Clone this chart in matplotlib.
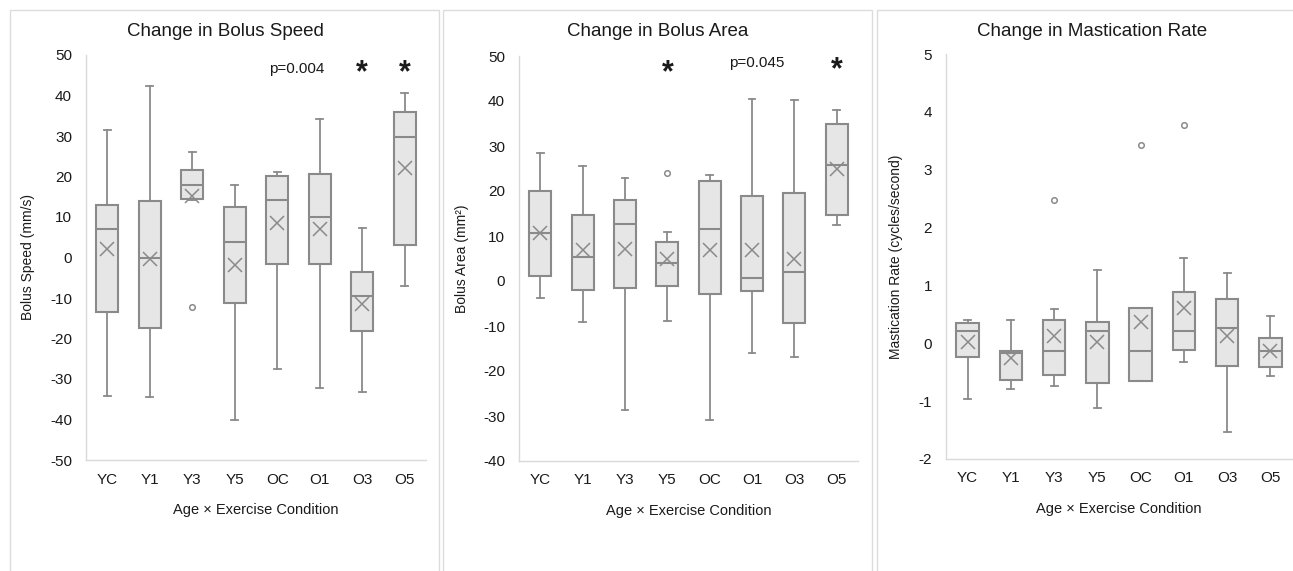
import matplotlib
matplotlib.use("Agg")
import matplotlib.pyplot as plt
from matplotlib.patches import Rectangle

plt.rcParams["font.family"] = ["Liberation Sans", "DejaVu Sans"]
plt.rcParams["axes.unicode_minus"] = False

# ── data ───────────────────────────────────────────────────────
groups = ["YC", "Y1", "Y3", "Y5", "OC", "O1", "O3", "O5"]

# Bolus speed (mm/s)
speed_lo   = [-34.1, -34.4, 14.2, -40.1, -27.5, -32.3, -33.1, -7.0]
speed_q1   = [-13.5, -17.5, 14.4, -11.2, -1.7, -1.6, -18.1, 3.1]
speed_med  = [7.0, 0.0, 17.8, 3.8, 14.1, 9.9, -9.5, 29.8]
speed_q3   = [12.9, 14.0, 21.6, 12.5, 20.2, 20.5, -3.7, 35.9]
speed_hi   = [31.5, 42.3, 26.1, 17.9, 21.2, 34.1, 7.4, 40.5]
speed_mean = [2.0, -0.3, 15.3, -1.9, 8.6, 7.1, -11.5, 22.2]
speed_out  = [[], [], [-12.1], [], [], [], [], []]

# Bolus area (mm2)
area_lo   = [-3.7, -9.1, -28.6, -8.9, -30.8, -16.1, -16.9, 12.4]
area_q1   = [1.1, -2.1, -1.6, -1.1, -2.9, -2.2, -9.3, 14.6]
area_med  = [10.7, 5.4, 12.6, 3.9, 11.5, 0.7, 2.0, 25.8]
area_q3   = [20.1, 14.7, 18.0, 8.6, 22.3, 18.9, 19.5, 35.0]
area_hi   = [28.4, 25.6, 22.9, 10.9, 23.5, 40.5, 40.3, 38.1]
area_mean = [10.7, 6.9, 7.2, 4.8, 7.0, 6.9, 5.0, 25.0]
area_out  = [[], [], [], [24.1], [], [], [], []]

# Mastication rate (cycles/second)
rate_lo   = [-0.96, -0.79, -0.73, -1.12, -0.66, -0.32, -1.53, -0.56]
rate_q1   = [-0.24, -0.64, -0.54, -0.68, -0.66, -0.11, -0.40, -0.41]
rate_med  = [0.21, -0.16, -0.13, 0.21, -0.13, 0.21, 0.27, -0.13]
rate_q3   = [0.35, -0.13, 0.40, 0.37, 0.61, 0.88, 0.76, 0.09]
rate_hi   = [0.40, 0.40, 0.60, 1.27, 0.61, 1.47, 1.21, 0.48]
rate_mean = [0.03, -0.26, 0.12, 0.03, 0.37, 0.61, 0.12, -0.13]
rate_out  = [[], [], [2.47], [], [3.42], [3.77], [], []]

# ── styling ────────────────────────────────────────────────────
W, H = 1293, 571
EDGE = "#8a8a8a"
FILL = "#e6e6e6"
AXIS = "#d9d9d9"
TXT = "#1a1a1a"

fig = plt.figure(figsize=(W / 100, H / 100), dpi=100)


def px_axes(left, right, top, bottom):
    return fig.add_axes([left / W, 1 - bottom / H, (right - left) / W, (bottom - top) / H])


def frame(x0, x1, y0):
    fig.patches.append(Rectangle((x0 / W, -0.05), (x1 - x0) / W, 1.05 - y0 / H,
                                 transform=fig.transFigure, fill=False,
                                 edgecolor="#dcdcdc", lw=1.0))


def draw_box(ax, lo, q1, med, q3, hi, mean, outl, ylim, ticks, ylabel, ylab_x):
    stats = []
    for i in range(len(groups)):
        stats.append(dict(whislo=lo[i], q1=q1[i], med=med[i], q3=q3[i],
                          whishi=hi[i], mean=mean[i], fliers=outl[i]))
    ax.bxp(stats, positions=range(len(groups)), widths=0.52, capwidths=0.16,
           patch_artist=True, showmeans=True,
           boxprops=dict(facecolor=FILL, edgecolor=EDGE, lw=1.5),
           medianprops=dict(color=EDGE, lw=1.5),
           whiskerprops=dict(color=EDGE, lw=1.3),
           capprops=dict(color=EDGE, lw=1.3),
           meanprops=dict(marker="x", markersize=10, markeredgecolor=EDGE,
                          markeredgewidth=1.1),
           flierprops=dict(marker="o", markersize=4, markerfacecolor="none",
                           markeredgecolor=EDGE, markeredgewidth=1.1))
    ax.set_xlim(-0.5, len(groups) - 0.5)
    ax.set_ylim(*ylim)
    ax.set_yticks(ticks)
    ax.set_xticks(range(len(groups)))
    ax.set_xticklabels(groups)
    for s in ["top", "right"]:
        ax.spines[s].set_visible(False)
    for s in ["left", "bottom"]:
        ax.spines[s].set_color(AXIS)
        ax.spines[s].set_linewidth(1.0)
    ax.tick_params(axis="both", length=0, labelsize=11, colors=TXT)
    ax.tick_params(axis="y", pad=10)
    ax.tick_params(axis="x", pad=9)
    ax.set_facecolor("none")
    ax.set_ylabel(ylabel, fontsize=10, color=TXT)
    ax.yaxis.set_label_coords(ylab_x, 0.5)
    ax.set_xlabel("Age × Exercise Condition", fontsize=10.5, color=TXT)
    ax.xaxis.set_label_coords(0.5, -0.105)


frame(10, 439, 10)
frame(443, 872, 10)
frame(877, 1320, 10)

ax1 = px_axes(86, 426, 55, 460)
draw_box(ax1, speed_lo, speed_q1, speed_med, speed_q3, speed_hi, speed_mean, speed_out,
         (-50, 50), range(-50, 51, 10), "Bolus Speed (mm/s)", -0.15)
ax1.text(4.47, 46.5, "p=0.004", ha="center", va="center", fontsize=11, color=TXT)
for gx in [6, 7]:
    ax1.text(gx, 45.6, "*", ha="center", va="center", fontsize=22, fontweight="bold", color=TXT)

ax2 = px_axes(519, 858, 56, 461)
draw_box(ax2, area_lo, area_q1, area_med, area_q3, area_hi, area_mean, area_out,
         (-40, 50), range(-40, 51, 10), "Bolus Area (mm²)", -0.147)
ax2.text(5.11, 48.4, "p=0.045", ha="center", va="center", fontsize=11, color=TXT)
ax2.text(3, 46.2, "*", ha="center", va="center", fontsize=22, fontweight="bold", color=TXT)
ax2.text(7, 46.8, "*", ha="center", va="center", fontsize=22, fontweight="bold", color=TXT)

ax3 = px_axes(946, 1292, 54, 459)
draw_box(ax3, rate_lo, rate_q1, rate_med, rate_q3, rate_hi, rate_mean, rate_out,
         (-2, 5), range(-2, 6), "Mastication Rate (cycles/second)", -0.124)

fig.text(225 / W, 1 - 32 / H, "Change in Bolus Speed", ha="center", va="center",
         fontsize=13.5, color=TXT)
fig.text(658 / W, 1 - 32 / H, "Change in Bolus Area", ha="center", va="center",
         fontsize=13.5, color=TXT)
fig.text(1092 / W, 1 - 31 / H, "Change in Mastication Rate", ha="center", va="center",
         fontsize=13.5, color=TXT)

fig.savefig("out.png", dpi=100)
